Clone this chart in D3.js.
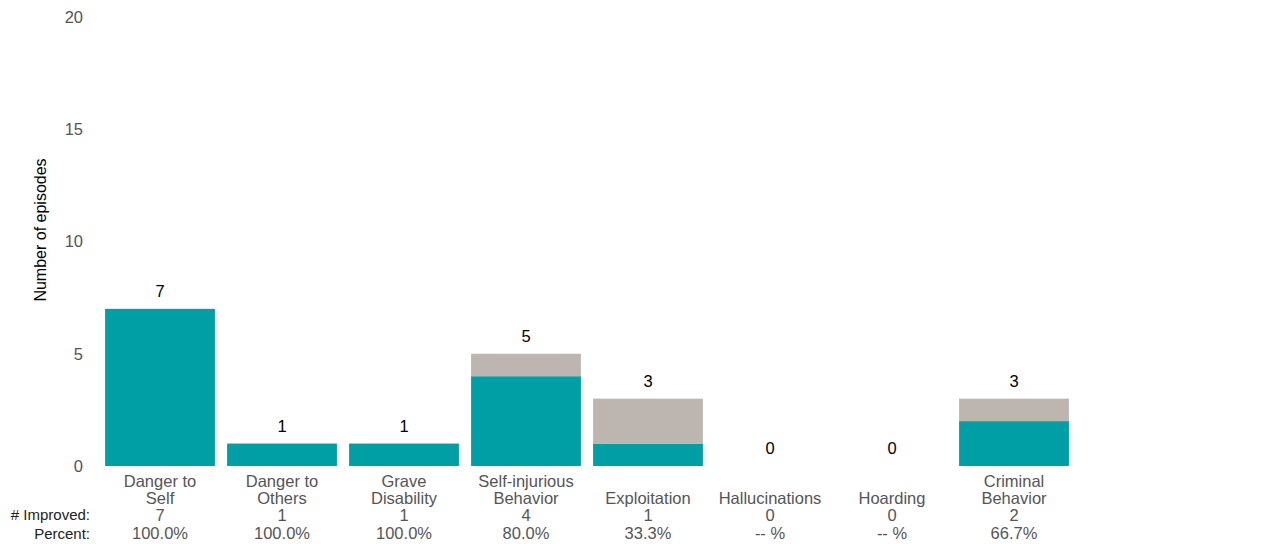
<!DOCTYPE html>
<html><head><meta charset="utf-8">
<script src="https://cdn.jsdelivr.net/npm/d3@7"></script>
<style>body{margin:0;background:#fff;} svg{display:block;font-family:"Liberation Sans",Arial,sans-serif;}</style>
</head><body>
<svg id="c" width="1279" height="544"></svg>
<script>
const categories = [["Danger to","Self"],["Danger to","Others"],["Grave","Disability"],["Self-injurious","Behavior"],["Exploitation"],["Hallucinations"],["Hoarding"],["Criminal","Behavior"]];
const totals = [7,1,1,5,3,0,0,3];
const improved = [7,1,1,4,1,0,0,2];
const percents = ["100.0%","100.0%","100.0%","80.0%","33.3%","-- %","-- %","66.7%"];
const yTicks = [0,5,10,15,20];
const colImproved = "#009ea5", colNot = "#bdb5af";

const svg = d3.select("#c");
const keys = categories.map((d,i)=>i);
const x = d3.scaleBand().domain(keys).range([99,1075]).paddingInner(0.1).paddingOuter(0.05);
const y = d3.scaleLinear().domain([0,20]).range([466,17]);

// y axis
const ya = svg.append("g").attr("transform","translate(88,0)")
  .call(d3.axisLeft(y).tickValues(yTicks).tickSize(0).tickPadding(5));
ya.select(".domain").remove();
ya.selectAll("text").attr("font-size",16.5).attr("fill","#555").attr("font-family","Liberation Sans, Arial, sans-serif");

svg.append("text").attr("transform","translate(46,230) rotate(-90)").attr("text-anchor","middle")
  .attr("font-size",16).attr("fill","#000").text("Number of episodes");

// bars
const g = svg.append("g");
g.selectAll(".imp").data(keys).join("rect")
  .attr("x",i=>x(i)).attr("width",x.bandwidth())
  .attr("y",i=>y(improved[i])).attr("height",i=>y(0)-y(improved[i])).attr("fill",colImproved);
g.selectAll(".not").data(keys).join("rect")
  .attr("x",i=>x(i)).attr("width",x.bandwidth())
  .attr("y",i=>y(totals[i])).attr("height",i=>y(improved[i])-y(totals[i])).attr("fill",colNot);

// value labels
g.selectAll(".val").data(keys).join("text")
  .attr("x",i=>x(i)+x.bandwidth()/2).attr("y",i=>y(totals[i])-12)
  .attr("text-anchor","middle").attr("font-size",16.5).attr("fill","#000").text(i=>totals[i]);

// category labels
const cx = i=>x(i)+x.bandwidth()/2;
keys.forEach(i=>{
  const lines = categories[i];
  lines.forEach((t,j)=>{
    svg.append("text").attr("x",cx(i)).attr("y",504 - (lines.length-1-j)*17)
      .attr("text-anchor","middle").attr("font-size",16.5).attr("fill","#555").text(t);
  });
  svg.append("text").attr("x",cx(i)).attr("y",521).attr("text-anchor","middle")
    .attr("font-size",16.5).attr("fill","#555").text(improved[i]);
  svg.append("text").attr("x",cx(i)).attr("y",539).attr("text-anchor","middle")
    .attr("font-size",16.5).attr("fill","#555").text(percents[i]);
});
svg.append("text").attr("x",90).attr("y",520).attr("text-anchor","end").attr("font-size",15).attr("fill","#222").text("# Improved:");
svg.append("text").attr("x",90).attr("y",539).attr("text-anchor","end").attr("font-size",15).attr("fill","#222").text("Percent:");
</script>
</body></html>
